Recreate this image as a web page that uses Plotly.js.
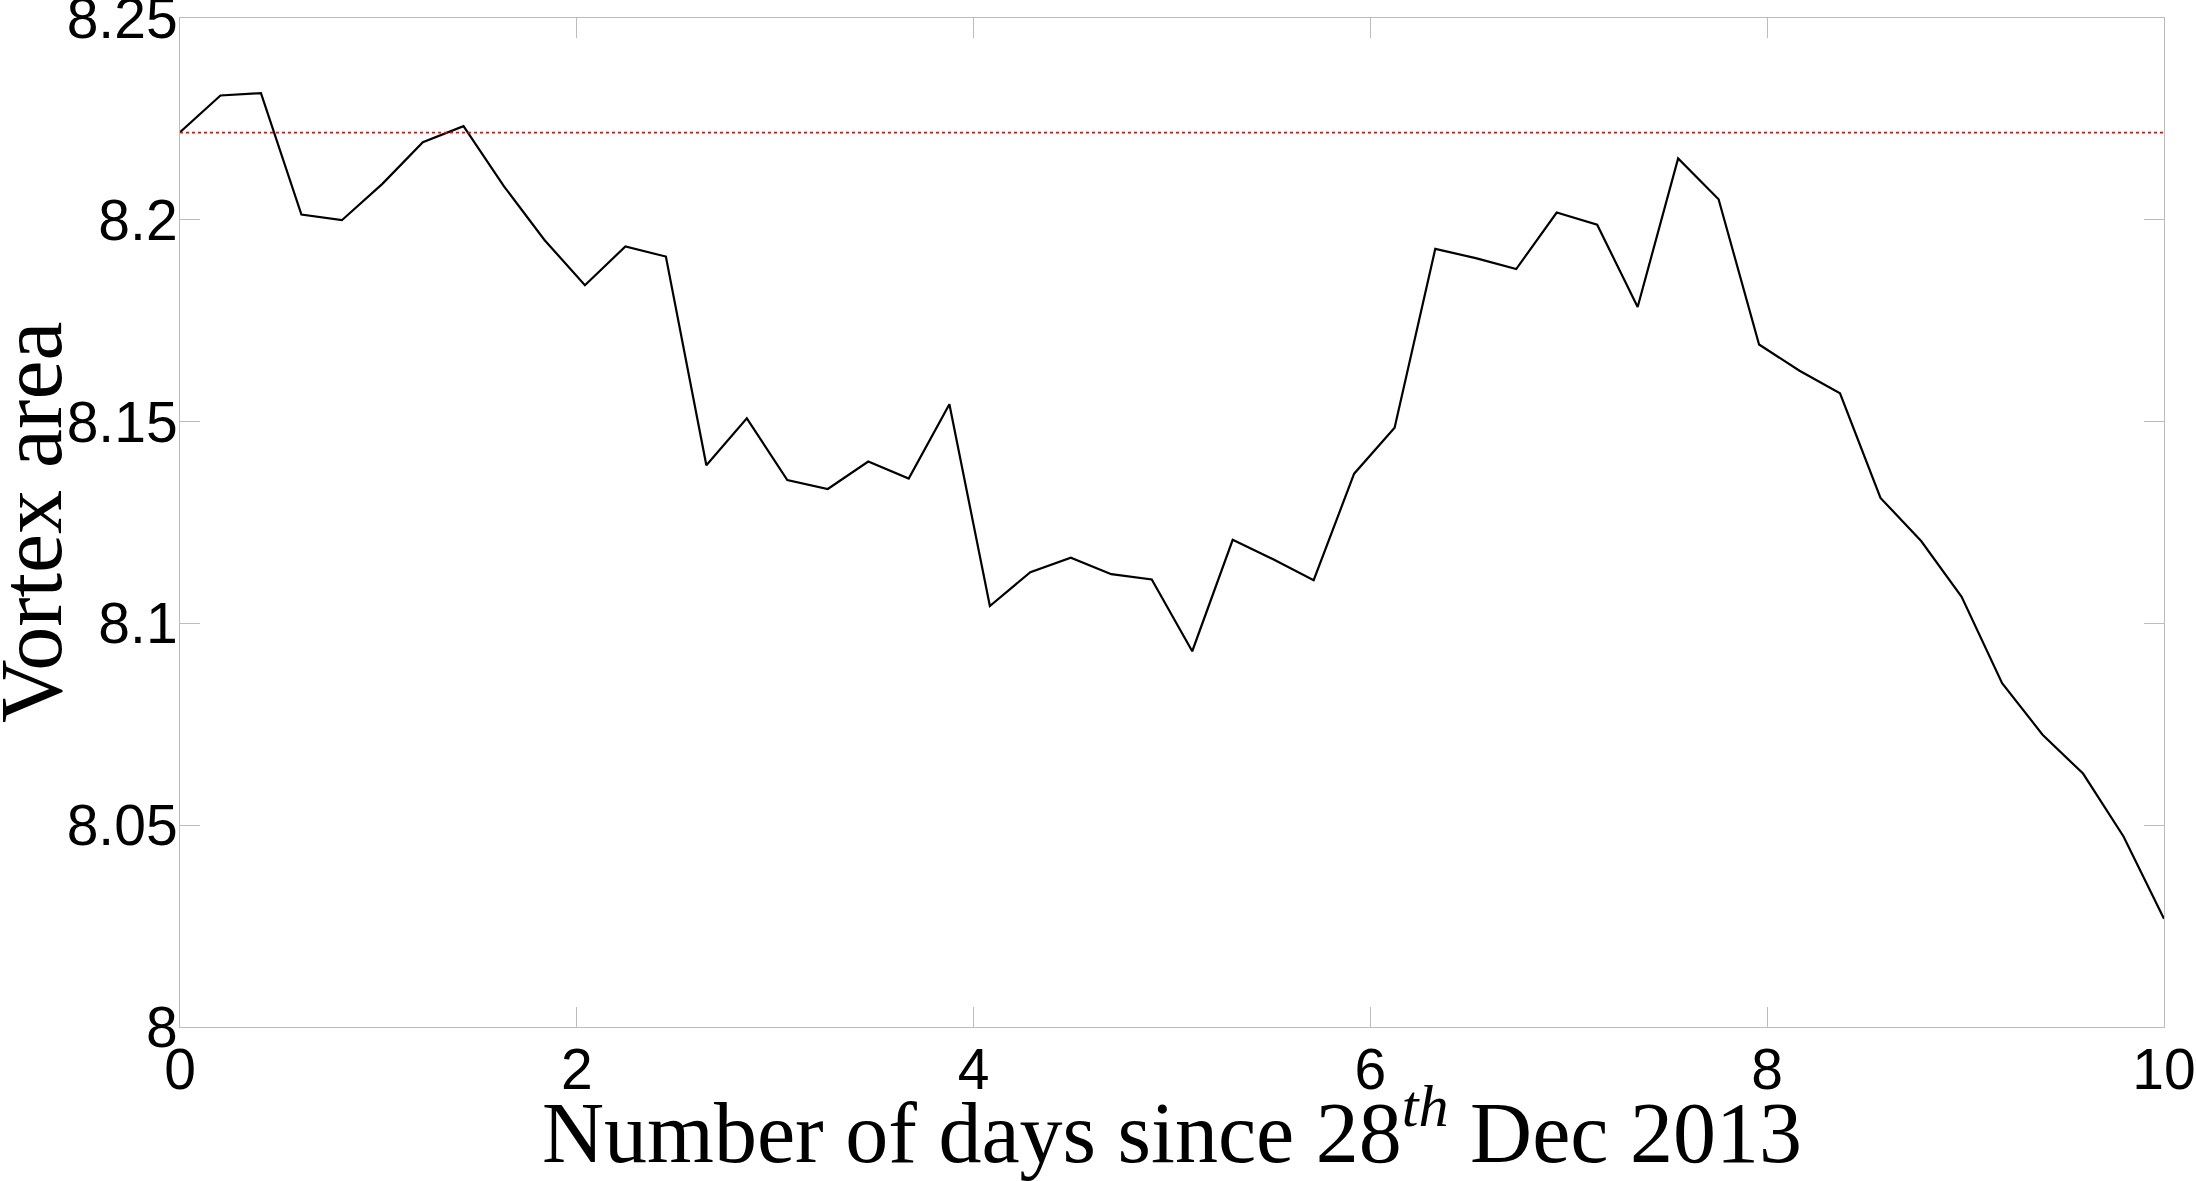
<!DOCTYPE html>
<html>
<head>
<meta charset="utf-8">
<script src="https://cdn.plot.ly/plotly-3.0.1.min.js"></script>
<style>
  html, body { margin: 0; padding: 0; background: #ffffff; }
  #chart { width: 2196px; height: 1181px; }
</style>
</head>
<body>
<div id="chart"></div>
<script>
// Time since 28 Dec 2013 (days)
const days = [
  0.000, 0.204, 0.408, 0.612, 0.816, 1.020, 1.224, 1.429, 1.633, 1.837,
  2.041, 2.245, 2.449, 2.653, 2.857, 3.061, 3.265, 3.469, 3.673, 3.878,
  4.082, 4.286, 4.490, 4.694, 4.898, 5.102, 5.306, 5.510, 5.714, 5.918,
  6.122, 6.327, 6.531, 6.735, 6.939, 7.143, 7.347, 7.551, 7.755, 7.959,
  8.163, 8.367, 8.571, 8.776, 8.980, 9.184, 9.388, 9.592, 9.796, 10.000
];
// Vortex area
const vortexArea = [
  8.2217, 8.2308, 8.2314, 8.2013, 8.1999, 8.2089, 8.2192, 8.2232, 8.2083, 8.1950,
  8.1838, 8.1934, 8.1909, 8.1392, 8.1508, 8.1355, 8.1333, 8.1401, 8.1359, 8.1543,
  8.1043, 8.1127, 8.1163, 8.1122, 8.1109, 8.0931, 8.1207, 8.1159, 8.1107, 8.1371,
  8.1485, 8.1928, 8.1905, 8.1878, 8.2018, 8.1988, 8.1784, 8.2152, 8.2051, 8.1691,
  8.1626, 8.1570, 8.1311, 8.1204, 8.1066, 8.0852, 8.0724, 8.0628, 8.0472, 8.0268
];
// Reference level (red dotted line)
const refLevel = 8.2216;
const refX = [0, 10];

// Tick labels
const xTickVals = [0, 2, 4, 6, 8, 10];
const xTickText = ["0", "2", "4", "6", "8", "10"];
const yTickVals = [8, 8.05, 8.1, 8.15, 8.2, 8.25];
const yTickText = ["8", "8.05", "8.1", "8.15", "8.2", "8.25"];

const xTitle = "Number of days since 28<sup><i>th</i></sup> Dec 2013";
const yTitle = "Vortex area";

const axisGray = "#bcbcbc";
const tickFont = { family: "Liberation Sans, Arial, sans-serif", size: 57, color: "#000000" };
const xTitleFont = { family: "Liberation Serif, Times New Roman, serif", size: 86, color: "#000000" };
const yTitleFont = { family: "Liberation Serif, Times New Roman, serif", size: 88, color: "#000000" };

const traces = [
  {
    x: days,
    y: vortexArea,
    type: "scatter",
    mode: "lines",
    line: { color: "#000000", width: 2.2 },
    hoverinfo: "x+y",
    showlegend: false
  },
  {
    x: refX,
    y: [refLevel, refLevel],
    type: "scatter",
    mode: "lines",
    line: { color: "#ff0000", width: 1.6, dash: "dot" },
    hoverinfo: "y",
    showlegend: false
  }
];

const layout = {
  width: 2196,
  height: 1181,
  margin: { l: 180, r: 32, t: 18, b: 154 },
  paper_bgcolor: "#ffffff",
  plot_bgcolor: "#ffffff",
  showlegend: false,
  xaxis: {
    range: [0, 10],
    tickmode: "array",
    tickvals: xTickVals,
    ticktext: xTickText,
    ticks: "inside",
    ticklen: 20,
    tickwidth: 1,
    tickcolor: axisGray,
    showline: true,
    linecolor: axisGray,
    linewidth: 1,
    mirror: "ticks",
    showgrid: false,
    zeroline: false,
    tickfont: tickFont,
    ticklabelstandoff: -7,
    ticklabeloverflow: "allow",
    automargin: false,
    title: { text: xTitle, font: xTitleFont, standoff: 0 }
  },
  yaxis: {
    range: [8, 8.25],
    tickmode: "array",
    tickvals: yTickVals,
    ticktext: yTickText,
    ticks: "inside",
    ticklen: 20,
    tickwidth: 1,
    tickcolor: axisGray,
    showline: true,
    linecolor: axisGray,
    linewidth: 1,
    mirror: "ticks",
    showgrid: false,
    zeroline: false,
    tickfont: tickFont,
    ticklabelstandoff: -10,
    ticklabeloverflow: "allow",
    automargin: false,
    title: { text: "" }
  },
  annotations: [
    {
      text: yTitle,
      xref: "paper",
      yref: "paper",
      x: 0,
      y: 0.5,
      xanchor: "right",
      yanchor: "middle",
      xshift: -98,
      textangle: -90,
      showarrow: false,
      font: yTitleFont
    }
  ]
};

Plotly.newPlot("chart", traces, layout, { staticPlot: true, displayModeBar: false });
</script>
</body>
</html>
